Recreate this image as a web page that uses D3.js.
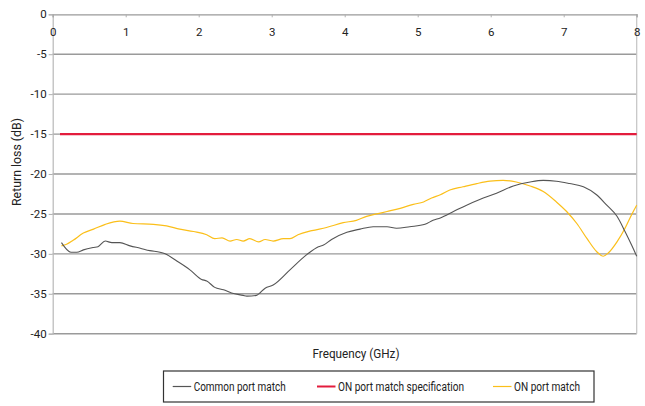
<!DOCTYPE html>
<html><head><meta charset="utf-8">
<script src="https://cdn.jsdelivr.net/npm/d3@7/dist/d3.min.js"></script>
<style>
html,body{margin:0;padding:0;background:#fff;}
svg text{font-family:Roboto,"Noto Sans",sans-serif;fill:#222;}
</style></head>
<body>
<svg id="c" width="645" height="406"></svg>
<script>
const xTicks = [0,1,2,3,4,5,6,7,8];
const yTicks = [0,-5,-10,-15,-20,-25,-30,-35,-40];

const commonFreq = [0.12,0.25,0.33,0.42,0.56,0.62,0.72,0.81,0.92,1.06,1.20,1.33,1.47,1.54,1.70,1.88,2.04,2.11,2.22,2.34,2.45,2.61,2.66,2.79,2.91,3.02,3.25,3.48,3.64,3.71,3.82,4.03,4.21,4.39,4.58,4.71,4.89,5.10,5.21,5.31,5.49,5.67,5.85,6.08,6.31,6.54,6.72,6.90,7.08,7.27,7.45,7.59,7.73,7.84,7.93,8.00];
const commonLoss = [-28.6,-29.8,-29.8,-29.5,-29.2,-29.1,-28.4,-28.6,-28.6,-29.0,-29.3,-29.6,-29.8,-30.0,-30.9,-32.0,-33.2,-33.4,-34.2,-34.5,-34.9,-35.2,-35.3,-35.2,-34.3,-33.9,-32.0,-30.1,-29.1,-28.9,-28.2,-27.3,-26.9,-26.6,-26.6,-26.8,-26.6,-26.3,-25.8,-25.5,-24.7,-23.9,-23.2,-22.4,-21.5,-21.0,-20.8,-20.9,-21.2,-21.6,-22.6,-23.9,-25.3,-27.2,-28.9,-30.3];

const onFreq = [0.12,0.19,0.28,0.42,0.56,0.72,0.92,1.10,1.38,1.56,1.74,1.93,2.11,2.22,2.32,2.43,2.52,2.61,2.70,2.82,2.91,3.02,3.16,3.25,3.36,3.55,3.75,3.98,4.16,4.30,4.44,4.58,4.76,4.94,5.08,5.19,5.31,5.44,5.62,5.81,5.99,6.17,6.35,6.54,6.72,6.90,7.04,7.18,7.32,7.45,7.54,7.61,7.73,7.84,7.93,8.00];
const onLoss = [-29.0,-28.8,-28.3,-27.4,-26.9,-26.3,-25.9,-26.2,-26.3,-26.5,-26.9,-27.2,-27.6,-28.1,-28.0,-28.4,-28.2,-28.4,-28.1,-28.5,-28.2,-28.4,-28.1,-28.1,-27.6,-27.1,-26.7,-26.1,-25.8,-25.3,-25.0,-24.7,-24.3,-23.8,-23.5,-23.0,-22.6,-22.0,-21.6,-21.2,-20.9,-20.8,-21.0,-21.5,-22.2,-23.5,-24.7,-26.2,-28.1,-29.7,-30.3,-29.9,-28.5,-26.8,-25.1,-23.9];

const specFreq = [0.1, 8];
const specLoss = [-15, -15];

const seriesNames = ["Common port match","ON port match specification","ON port match"];
const seriesColors = ["#555555","#e31c3d","#fbbf1a"];

const svg = d3.select("#c");
const x = d3.scaleLinear().domain([0,8]).range([52.7,636.7]);
const y = d3.scaleLinear().domain([-40,0]).range([333.7,14.3]);
const fmt = d => String(d);

// gridlines
svg.append("g").selectAll("line").data(yTicks.filter(d=>d!==0)).join("line")
  .attr("x1",x(0)).attr("x2",x(8)).attr("y1",d=>y(d)).attr("y2",d=>y(d))
  .attr("stroke","#9a9a9a").attr("stroke-width",1.4);

// right border
svg.append("line").attr("x1",x(8)).attr("x2",x(8)).attr("y1",y(0)).attr("y2",y(-40))
  .attr("stroke","#c4c4c4").attr("stroke-width",1.2);

// y axis
const yAxis = svg.append("g").attr("transform",`translate(${x(0)},0)`)
  .call(d3.axisLeft(y).tickValues(yTicks).tickSize(4).tickPadding(2).tickFormat(fmt));
yAxis.select(".domain").attr("stroke","#b8b8b8").attr("stroke-width",1.2);
yAxis.selectAll(".tick line").attr("stroke","#b0b0b0");
yAxis.selectAll("text").attr("font-size",11.5).attr("fill","#222")
  .attr("font-family",'Roboto,"Noto Sans",sans-serif');

// x axis at top, labels inside
const xAxis = svg.append("g").attr("transform",`translate(0,${y(0)})`)
  .call(d3.axisBottom(x).tickValues(xTicks).tickSize(3).tickPadding(10.5).tickFormat(fmt));
xAxis.select(".domain").attr("stroke","#9a9a9a").attr("stroke-width",1.2);
xAxis.selectAll(".tick line").attr("stroke","#b0b0b0");
xAxis.selectAll("text").attr("font-size",11.5).attr("fill","#222")
  .attr("font-family",'Roboto,"Noto Sans",sans-serif');

const line = d3.line().x(d=>x(d[0])).y(d=>y(d[1])).curve(d3.curveMonotoneX);

svg.append("path").datum(specFreq.map((f,i)=>[f,specLoss[i]]))
  .attr("d",line).attr("fill","none").attr("stroke",seriesColors[1]).attr("stroke-width",2.2);
svg.append("path").datum(onFreq.map((f,i)=>[f,onLoss[i]]))
  .attr("d",line).attr("fill","none").attr("stroke",seriesColors[2]).attr("stroke-width",1.2);
svg.append("path").datum(commonFreq.map((f,i)=>[f,commonLoss[i]]))
  .attr("d",line).attr("fill","none").attr("stroke",seriesColors[0]).attr("stroke-width",1.1);

// axis titles
svg.append("text").attr("x",356).attr("y",358).attr("text-anchor","middle")
  .attr("font-size",13).attr("textLength",87).attr("lengthAdjust","spacingAndGlyphs")
  .text("Frequency (GHz)");
svg.append("text").attr("transform","translate(21,162) rotate(-90)").attr("text-anchor","middle")
  .attr("font-size",13).attr("textLength",88).attr("lengthAdjust","spacingAndGlyphs")
  .text("Return loss (dB)");

// legend
const lg = svg.append("g");
lg.append("rect").attr("x",163.5).attr("y",371).attr("width",430.5).attr("height",31)
  .attr("fill","#fff").attr("stroke","#333").attr("stroke-width",1.2);
const legX = [172.7, 317, 493];
const legW = [92, 126, 66];
seriesNames.forEach((n,i)=>{
  lg.append("line").attr("x1",legX[i]).attr("x2",legX[i]+18.5).attr("y1",386.5).attr("y2",386.5)
    .attr("stroke",seriesColors[i]).attr("stroke-width",i===1?2:1.2);
  lg.append("text").attr("x",legX[i]+21).attr("y",390.8).attr("font-size",12.5)
    .attr("textLength",legW[i]).attr("lengthAdjust","spacingAndGlyphs").text(n);
});
</script>
</body></html>
